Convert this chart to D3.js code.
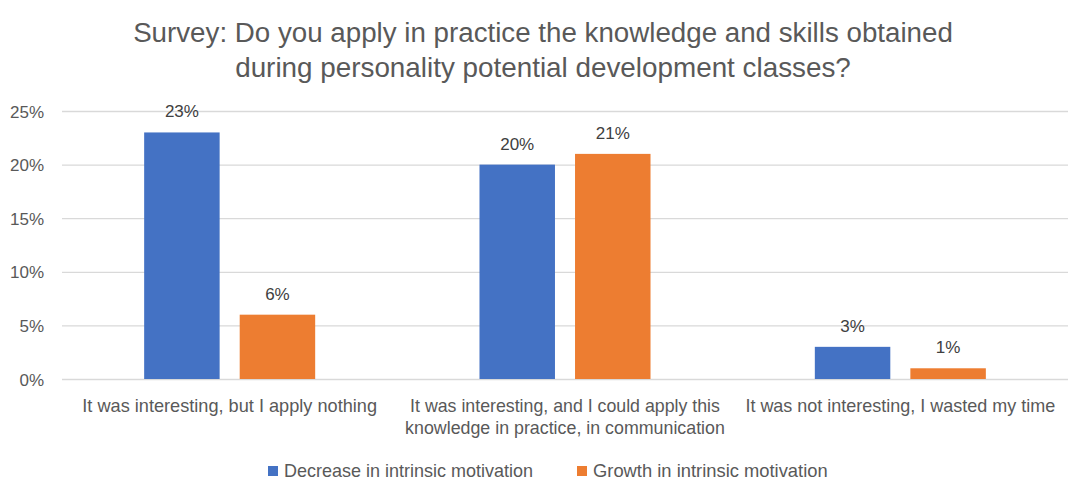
<!DOCTYPE html>
<html>
<head>
<meta charset="utf-8">
<script src="https://cdn.jsdelivr.net/npm/d3@7"></script>
<style>
  html, body { margin: 0; padding: 0; background: #fff; }
  svg { display: block; font-family: "Liberation Sans", Arial, sans-serif; }
</style>
</head>
<body>
<svg id="chart" width="1090" height="498"></svg>
<script>
// ---- data ----
const titleLines = [
  "Survey: Do you apply in practice the knowledge and skills obtained",
  "during personality potential development classes?"
];
const categories = [
  ["It was interesting, but I apply nothing"],
  ["It was interesting, and I could apply this", "knowledge in practice, in communication"],
  ["It was not interesting, I wasted my time"]
];
const seriesNames = ["Decrease in intrinsic motivation", "Growth in intrinsic motivation"];
const decreaseValues = [23, 20, 3];
const growthValues = [6, 21, 1];
const yTicks = [0, 5, 10, 15, 20, 25];
const colors = ["#4472C4", "#ED7D31"];

// ---- layout ----
const plot = { left: 62, right: 1068, top: 111, bottom: 379 };
const textColor = "#595959";
const svg = d3.select("#chart");

const y = d3.scaleLinear().domain([0, 25]).range([plot.bottom, plot.top]);
const x0 = d3.scaleBand().domain(d3.range(categories.length))
  .range([plot.left, plot.right]).paddingInner(0.49).paddingOuter(0.245);
const x1 = d3.scaleBand().domain([0, 1]).range([0, x0.bandwidth()]).paddingInner(0.21);

// fit helper: scale font size so the text reaches a target width
function fitSize(sel, w) {
  sel.each(function() {
    const el = d3.select(this);
    const fs = parseFloat(el.attr("font-size"));
    const len = this.getComputedTextLength();
    if (len > 0) el.attr("font-size", (fs * w / len).toFixed(2));
  });
}

// title
const titleWidths = [820, 616];
titleLines.forEach((t, i) => {
  svg.append("text").attr("x", 543).attr("y", 42 + i * 35)
    .attr("text-anchor", "middle").attr("font-size", 25).attr("fill", textColor)
    .text(t).call(fitSize, titleWidths[i]);
});

// gridlines + y axis labels
const yAxis = d3.axisLeft(y).tickValues(yTicks).tickSize(-(plot.right - plot.left))
  .tickFormat(d => d + "%").tickPadding(18);
const gy = svg.append("g").attr("transform", `translate(${plot.left},0)`).call(yAxis);
gy.select(".domain").remove();
gy.selectAll(".tick line").attr("stroke", "#D9D9D9").attr("stroke-width", 1.3);
gy.selectAll(".tick text").attr("fill", textColor).attr("font-size", 17)
  .attr("font-family", "Liberation Sans, Arial, sans-serif")
  .attr("dy", "0.36em").attr("x", -18);

// bars
const series = [decreaseValues, growthValues];
const groups = svg.append("g").selectAll("g").data(categories).join("g")
  .attr("transform", (d, i) => `translate(${x0(i)},0)`);
groups.each(function(c, i) {
  const g = d3.select(this);
  series.forEach((vals, s) => {
    g.append("rect").attr("x", x1(s)).attr("width", x1.bandwidth())
      .attr("y", y(vals[i])).attr("height", y(0) - y(vals[i]))
      .attr("fill", colors[s]);
    g.append("text").attr("x", x1(s) + x1.bandwidth() / 2).attr("y", y(vals[i]) - 15)
      .attr("text-anchor", "middle").attr("font-size", 17).attr("fill", "#404040")
      .text(vals[i] + "%");
  });
});

// category labels
const catWidths = [[295], [310, 320], [310]];
categories.forEach((lines, i) => {
  const cx = x0(i) + x0.bandwidth() / 2;
  lines.forEach((t, j) => {
    svg.append("text").attr("x", cx).attr("y", 412 + j * 22)
      .attr("text-anchor", "middle").attr("font-size", 17).attr("fill", textColor)
      .text(t).call(fitSize, catWidths[i][j]);
  });
});

// legend
const legendX = [268, 577];
const legendW = [249, 235];
seriesNames.forEach((n, s) => {
  svg.append("rect").attr("x", legendX[s]).attr("y", 466).attr("width", 10).attr("height", 10)
    .attr("fill", colors[s]);
  svg.append("text").attr("x", legendX[s] + 16).attr("y", 477)
    .attr("font-size", 16.5).attr("fill", textColor).text(n).call(fitSize, legendW[s]);
});
</script>
</body>
</html>
